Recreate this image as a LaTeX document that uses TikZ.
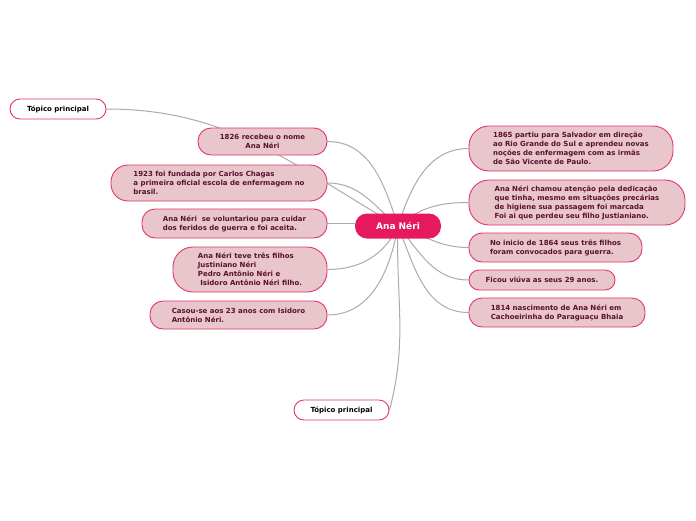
\documentclass[tikz,border=0pt]{standalone}
\usepackage{fontspec}
\setmainfont{DejaVu Sans}
\usetikzlibrary{backgrounds}
\definecolor{hub}{HTML}{E6195F}
\definecolor{tfill}{HTML}{E8C6CB}
\definecolor{tborder}{HTML}{E2346F}
\definecolor{ttext}{HTML}{5A1030}
\definecolor{linkc}{HTML}{ABABAB}
\begin{document}
\begin{tikzpicture}[x=1pt,y=-1pt,
  topic/.style={draw=tborder, line width=0.9pt, fill=tfill, text=ttext,
    font=\fontsize{7}{9}\selectfont\bfseries, align=left, rounded corners=13pt, inner sep=0pt},
  tall/.style={rounded corners=20pt},
  plain/.style={draw=tborder, line width=0.9pt, fill=white, text=black,
    font=\fontsize{7}{9}\selectfont\bfseries, rounded corners=10pt, inner sep=0pt},
  link/.style={draw=linkc, line width=1pt}]
\useasboundingbox (0,0) rectangle (696,520);

\node[fill=hub, text=white, font=\fontsize{9}{10}\selectfont\bfseries, rounded corners=12pt,
  minimum width=86pt, minimum height=25pt, inner sep=0pt] (c) at (398,226) {Ana Néri};

\node[plain, minimum width=96pt, minimum height=20pt] (tp1) at (58,109) {Tópico principal};
\node[plain, minimum width=95pt, minimum height=20pt] (tp2) at (341.5,410) {Tópico principal};

\node[topic, align=center, minimum width=129pt, minimum height=27pt] (n1826) at (262.5,141.5)
  {1826 recebeu o nome\\Ana Néri};
\node[topic, minimum width=216pt, minimum height=36pt, rounded corners=17pt] (n1923) at (219,183)
  {1923 foi fundada por Carlos Chagas\\a primeira oficial escola de enfermagem no\\brasil.};
\node[topic, minimum width=185pt, minimum height=29pt] (nvol) at (234.5,223.5)
  {Ana Néri\ \ se voluntariou para cuidar\\dos feridos de guerra e foi aceita.};
\node[topic, tall, minimum width=154pt, minimum height=45pt] (nfil) at (250,269.5)
  {Ana Néri teve três filhos\\Justiniano Néri\\Pedro Antônio Néri e\\\ Isidoro Antônio Néri filho.};
\node[topic, minimum width=177pt, minimum height=28pt] (ncas) at (238.5,315)
  {Casou-se aos 23 anos com Isidoro\\Antônio Néri.};

\node[topic, tall, minimum width=204pt, minimum height=45pt] (n1865) at (571,148.5)
  {1865 partiu para Salvador em direção\\ao Rio Grande do Sul e aprendeu novas\\noções de enfermagem com as irmãs\\de São Vicente de Paulo.};
\node[topic, tall, minimum width=216pt, minimum height=45pt] (ncham) at (577,202.5)
  {Ana Néri chamou atenção pela dedicação\\que tinha, mesmo em situações precárias\\de higiene sua passagem foi marcada\\Foi ai que perdeu seu filho Justianiano.};
\node[topic, minimum width=173pt, minimum height=29pt] (n1864) at (555.5,247.5)
  {No inicio de 1864 seus três filhos\\foram convocados para guerra.};
\node[topic, rounded corners=10pt, minimum width=146pt, minimum height=20pt] (nviu) at (542,280)
  {Ficou viúva as seus 29 anos.};
\node[topic, minimum width=176pt, minimum height=29pt] (n1814) at (557,312.5)
  {1814 nascimento de Ana Néri em\\Cachoeirinha do Paraguaçu Bhaia};

\begin{pgfonlayer}{background}
  \draw[link] (tp1.east) to[out=0,in=150] (c.center);
  \draw[link] (c.center) to[out=108,in=0] (n1826.east);
  \draw[link] (n1923.east) to[out=0,in=140] (c.center);
  \draw[link] (nvol.east) -- (nvol.east -| c.west);
  \draw[link] (c.center) to[out=-115,in=0] (nfil.east);
  \draw[link] (c.center) to[out=-100,in=0] (ncas.east);
  \draw[link] (tp2.east) to[out=75,in=-92] (c.center);
  \draw[link] (c.center) to[out=72,in=180] (n1865.west);
  \draw[link] (c.center) to[out=40,in=180] (ncham.west);
  \draw[link] (c.center) to[out=-20,in=180] (n1864.west);
  \draw[link] (c.center) to[out=-50,in=180] (nviu.west);
  \draw[link] (c.center) to[out=-68,in=180] (n1814.west);
\end{pgfonlayer}
\end{tikzpicture}
\end{document}
